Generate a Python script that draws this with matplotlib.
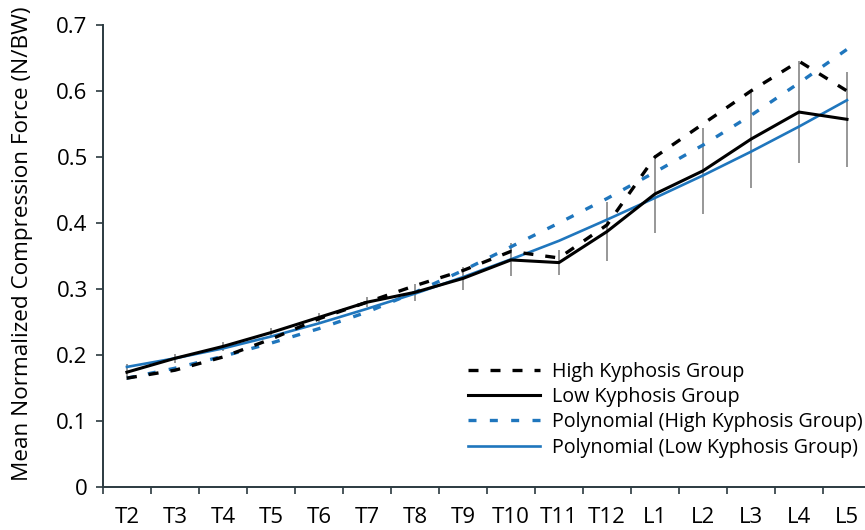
import matplotlib
matplotlib.use("Agg")
import matplotlib.pyplot as plt
from matplotlib.ticker import FixedLocator, FuncFormatter

levels = ["T2", "T3", "T4", "T5", "T6", "T7", "T8", "T9", "T10", "T11", "T12",
          "L1", "L2", "L3", "L4", "L5"]

high_kyphosis = [0.165, 0.177, 0.197, 0.224, 0.255, 0.280, 0.305, 0.328, 0.357, 0.347,
                 0.397, 0.500, 0.550, 0.600, 0.645, 0.600]
low_kyphosis = [0.174, 0.195, 0.213, 0.234, 0.257, 0.280, 0.295, 0.316, 0.344, 0.340,
                0.387, 0.444, 0.479, 0.527, 0.568, 0.557]
low_err = [0.012, 0.007, 0.007, 0.007, 0.007, 0.008, 0.013, 0.017, 0.025, 0.019,
           0.045, 0.059, 0.065, 0.074, 0.077, 0.072]
poly_high = [0.165, 0.180, 0.198, 0.218, 0.240, 0.265, 0.295, 0.328, 0.364, 0.400,
             0.437, 0.477, 0.518, 0.563, 0.612, 0.663]
poly_low = [0.182, 0.195, 0.210, 0.228, 0.248, 0.270, 0.293, 0.318, 0.345, 0.373,
            0.405, 0.438, 0.472, 0.508, 0.546, 0.586]

plt.rcParams["font.family"] = ["Open Sans", "DejaVu Sans"]

fig = plt.figure(figsize=(8.65, 5.3), dpi=100)
ax = fig.add_axes([0.119, 0.081, 0.881, 0.872])

x = list(range(len(levels)))
blue = "#1f76bd"

ax.errorbar(x, low_kyphosis, yerr=low_err, fmt="none", ecolor="#8f8f8f",
            elinewidth=1.3, capsize=0, zorder=1)
ax.plot(x, high_kyphosis, color="black", lw=2.4, dashes=(3.0, 3.6),
        label="High Kyphosis Group", zorder=3)
ax.plot(x, low_kyphosis, color="black", lw=2.2, label="Low Kyphosis Group", zorder=3)
ax.plot(x, poly_high, color=blue, lw=2.4, dashes=(2.4, 4.0),
        label="Polynomial (High Kyphosis Group)", zorder=2)
ax.plot(x, poly_low, color=blue, lw=1.9, label="Polynomial (Low Kyphosis Group)", zorder=2)

ax.set_xlim(-0.5, 15.375)
ax.set_ylim(0, 0.7)

ax.xaxis.set_major_locator(FixedLocator([i - 0.5 for i in range(len(levels) + 1)]))
ax.xaxis.set_major_formatter(FuncFormatter(lambda v, p: ""))
ax.xaxis.set_minor_locator(FixedLocator(x))
ax.set_xticklabels(levels, minor=True)
ax.tick_params(axis="x", which="major", length=5, width=1.2, color="#2b3a40")
ax.tick_params(axis="x", which="minor", length=0, labelsize=16, pad=14)

ax.set_yticks([0, 0.1, 0.2, 0.3, 0.4, 0.5, 0.6, 0.7])
ax.yaxis.set_major_formatter(FuncFormatter(lambda v, p: "0" if v == 0 else f"{v:.1f}"))
ax.tick_params(axis="y", length=5, width=1.2, color="#2b3a40", labelsize=16, pad=6)

for s in ["top", "right"]:
    ax.spines[s].set_visible(False)
for s in ["left", "bottom"]:
    ax.spines[s].set_color("#2b3a40")
    ax.spines[s].set_linewidth(1.4)

ax.set_ylabel("Mean Normalized Compression Force (N/BW)", fontsize=16.2)
ax.yaxis.set_label_coords(-0.092, 0.526)

leg = fig.legend(loc="upper left", bbox_to_anchor=(0.537, 0.325), fontsize=14.2,
                 frameon=True, facecolor="white", edgecolor="none", framealpha=1,
                 handlelength=3.65, handletextpad=0.6, labelspacing=0.27,
                 borderpad=0.2, borderaxespad=0)

fig.savefig("out.png", dpi=100)
